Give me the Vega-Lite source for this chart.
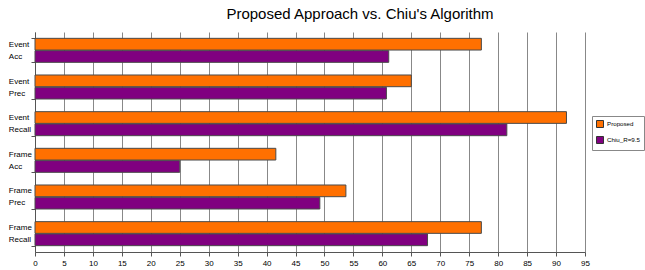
{
  "$schema": "https://vega.github.io/schema/vega-lite/v6.json",
  "width": 550,
  "height": 220,
  "autosize": "none",
  "padding": {"left": 35, "top": 32, "right": 60, "bottom": 18},
  "background": "white",
  "title": {
    "text": "Proposed Approach vs. Chiu's Algorithm",
    "font": "Liberation Sans",
    "fontSize": 15,
    "fontWeight": "normal",
    "color": "#000000",
    "anchor": "middle",
    "frame": "group",
    "dx": 50,
    "offset": 6
  },
  "data": {
    "values": [
      {"metric": "Event Acc", "series": "Proposed", "value": 77.1},
      {"metric": "Event Acc", "series": "Chiu_R=9.5", "value": 61.1},
      {"metric": "Event Prec", "series": "Proposed", "value": 65.0},
      {"metric": "Event Prec", "series": "Chiu_R=9.5", "value": 60.7},
      {"metric": "Event Recall", "series": "Proposed", "value": 91.8},
      {"metric": "Event Recall", "series": "Chiu_R=9.5", "value": 81.5},
      {"metric": "Frame Acc", "series": "Proposed", "value": 41.6},
      {"metric": "Frame Acc", "series": "Chiu_R=9.5", "value": 25.0},
      {"metric": "Frame Prec", "series": "Proposed", "value": 53.7},
      {"metric": "Frame Prec", "series": "Chiu_R=9.5", "value": 49.2},
      {"metric": "Frame Recall", "series": "Proposed", "value": 77.1},
      {"metric": "Frame Recall", "series": "Chiu_R=9.5", "value": 67.8}
    ]
  },
  "mark": {"type": "bar", "stroke": "#4a4a4a", "strokeWidth": 1},
  "encoding": {
    "y": {
      "field": "metric",
      "type": "nominal",
      "sort": ["Event Acc", "Event Prec", "Event Recall", "Frame Acc", "Frame Prec", "Frame Recall"],
      "scale": {"paddingInner": 0.345, "paddingOuter": 0.1727},
      "axis": {
        "title": null,
        "grid": false,
        "domainColor": "#555555",
        "tickColor": "#555555",
        "tickBand": "extent",
        "tickSize": 4,
        "labelExpr": "split(datum.label, ' ')",
        "labelAlign": "left",
        "labelBaseline": "middle",
        "labelPadding": 22.7,
        "labelLineHeight": 12,
        "labelOffset": -6,
        "labelFontSize": 8,
        "labelColor": "#000000",
        "encode": {
          "labels": {
            "update": {
              "dx": {"signal": "(datum.value == 'Event Acc' || datum.value == 'Event Prec') ? 3 : 0"}
            }
          }
        }
      }
    },
    "yOffset": {
      "field": "series",
      "sort": ["Proposed", "Chiu_R=9.5"],
      "scale": {"paddingInner": 0.05}
    },
    "x": {
      "field": "value",
      "type": "quantitative",
      "scale": {"domain": [0, 95], "nice": false},
      "axis": {
        "title": null,
        "values": [0, 5, 10, 15, 20, 25, 30, 35, 40, 45, 50, 55, 60, 65, 70, 75, 80, 85, 90, 95],
        "grid": true,
        "gridColor": "#888888",
        "gridOpacity": 1,
        "domainColor": "#555555",
        "tickColor": "#555555",
        "tickSize": 4,
        "labelFontSize": 8,
        "labelPadding": 3,
        "labelFlush": false,
        "labelColor": "#000000"
      }
    },
    "color": {
      "field": "series",
      "type": "nominal",
      "scale": {"domain": ["Proposed", "Chiu_R=9.5"], "range": ["#ff7000", "#800080"]},
      "legend": {
        "orient": "none",
        "legendX": 557,
        "legendY": 84,
        "title": null,
        "strokeColor": "#888888",
        "padding": 4,
        "symbolType": "square",
        "symbolSize": 49,
        "symbolStrokeColor": "#333333",
        "symbolStrokeWidth": 1,
        "labelFontSize": 6.2,
        "labelColor": "#000000",
        "rowPadding": 4,
        "labelOffset": 3
      }
    }
  },
  "config": {
    "font": "Liberation Sans",
    "view": {"stroke": null}
  }
}
